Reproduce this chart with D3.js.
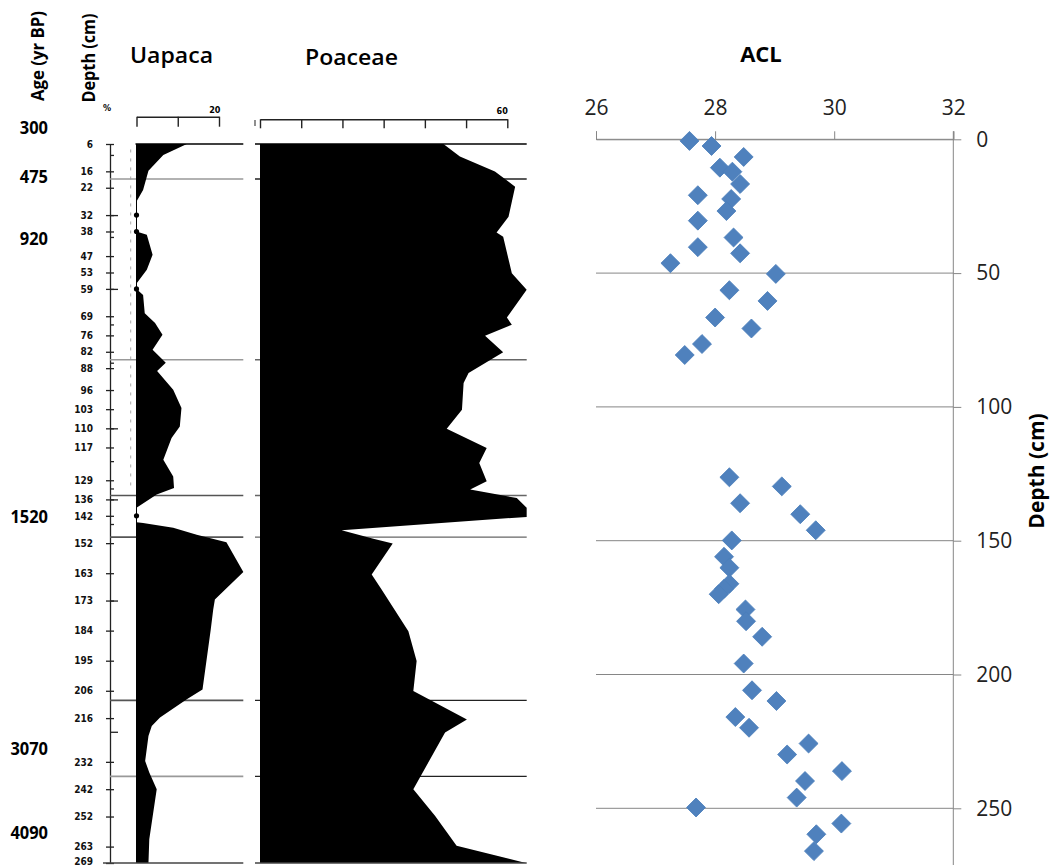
<!DOCTYPE html>
<html>
<head>
<meta charset="utf-8">
<script src="https://cdn.jsdelivr.net/npm/d3@7"></script>
<style>
  html, body { margin: 0; padding: 0; background: #fff; }
  svg { display: block; }
</style>
</head>
<body>
<svg id="chart" width="1051" height="865"></svg>
<script>
// ---------------- DATA ----------------
const depthTickLabels = [6,16,22,32,38,47,53,59,69,76,82,88,96,103,110,117,129,136,142,152,163,173,184,195,206,216,232,242,252,263,269];
const longTickDepths = [32,59,110,136,173,221];
const minorTickDepths = [10,40,72,86,122,132,145];
const ageLabels = ["300","475","920","1520","3070","4090"];
const ageDepths = [0,18,40.5,142.3,227,258];

const uapacaDepth = [6,10,15.8,22.8,27,32,38,39.2,46.5,52,57,59,61.2,67.9,71.5,75.8,81.3,86,89,95.9,102.6,109.3,113.5,121.5,127.6,131.8,134.2,139.1,144.4,144.6,146.4,148.9,151.7,162.6,172.6,176.3,183.6,205.5,209.1,215.8,218.9,222.5,231.7,235.9,242,260.3,269];
const uapacaPct   = [12.2,6.5,2.9,1.6,0,0,0,2.5,3.9,2.5,0,0,1.6,2,4.5,6.3,3.9,7.1,5.0,8.9,10.9,10.5,8.5,6.5,8.9,9.1,4.9,0,0,1.6,8.9,14.6,21.8,25.9,19,18.6,18,16,12.2,5.7,3.7,2.9,2.1,3.1,4.9,3.1,2.9];
const uapacaZeroDots = [32,38,59,142];

const poaceaeDepth = [6,10.6,16.1,21.6,32.6,38.4,39.9,53.3,59.3,69.5,72.1,76.1,82.2,89.8,93.4,103.2,110.2,117.2,122.7,129.4,132.4,135.5,139.1,142.4,147.3,150.4,152.1,163.5,169,184.2,195.1,206.1,216.5,221.3,242,251.8,262.7,269];
const poaceaePct   = [44.5,48.5,57,61.9,60.3,57.4,59,61.1,64.7,59.9,61.1,54.6,59,50.6,49.4,49,45.3,55,53.2,55,51,62.3,64.7,64.7,19.8,27.5,32.2,27.1,29.5,36,38,37.2,50.2,44.9,37.2,42.5,47.7,64.5];

const zoneDepths = [18.8,84.9,134.6,149.8,209.5,237.3];

const uapacaTicks = [0,10,20];
const poaceaeTicks = [0,10,20,30,40,50,60];

const aclDepth = [0.6,2.5,6.6,10.6,12.1,16.7,20.9,22.3,26.8,30.4,36.7,40.3,42.6,46.3,50.3,56.4,60.4,66.6,70.7,76.5,80.6,
                  126.3,129.7,136,140.1,146.1,149.9,156,160.1,166.1,168,170,175.7,180.1,185.9,195.9,205.9,209.9,215.9,219.9,225.8,229.9,236.1,239.8,246,249.7,255.7,259.7,266];
const aclValue = [27.57,27.94,28.48,28.08,28.29,28.42,27.71,28.27,28.19,27.71,28.31,27.71,28.42,27.25,29.02,28.24,28.88,28.0,28.61,27.78,27.49,
                  28.24,29.12,28.42,29.43,29.69,28.28,28.15,28.24,28.24,28.15,28.06,28.51,28.52,28.79,28.48,28.62,29.03,28.34,28.57,29.57,29.21,30.13,29.51,29.37,27.68,30.12,29.70,29.66];
const aclXTicks = [26,28,30,32];
const aclYTicks = [0,50,100,150,200,250];

// ---------------- DRAW ----------------
const svg = d3.select("#chart");
svg.append("rect").attr("width",1051).attr("height",865).attr("fill","#fff");

const condensed = "'DejaVu Sans Condensed','Liberation Sans Narrow','DejaVu Sans',sans-serif";
const sans = "'Open Sans','Noto Sans',sans-serif";

// scales
const yP = d3.scaleLinear().domain([6,269]).range([144,863]);
const xU = d3.scaleLinear().domain([0,20]).range([136.5,219]);
const xP = d3.scaleLinear().domain([0,60]).range([260,507.3]);

// headers
svg.append("text").attr("transform","translate(43.5,56) rotate(-90)")
  .attr("text-anchor","middle").attr("font-family",sans).attr("font-weight",700)
  .attr("font-size",18).attr("textLength",90).attr("lengthAdjust","spacingAndGlyphs")
  .text("Age (yr BP)");
svg.append("text").attr("transform","translate(95,58) rotate(-90)")
  .attr("text-anchor","middle").attr("font-family",sans).attr("font-weight",700)
  .attr("font-size",18).attr("textLength",89).attr("lengthAdjust","spacingAndGlyphs")
  .text("Depth (cm)");
svg.append("text").attr("x",130).attr("y",63).attr("font-family",sans).attr("font-weight",600)
  .attr("font-size",22).attr("textLength",83).attr("lengthAdjust","spacingAndGlyphs").text("Uapaca");
svg.append("text").attr("x",305).attr("y",65).attr("font-family",sans).attr("font-weight",600)
  .attr("font-size",22).attr("textLength",93).attr("lengthAdjust","spacingAndGlyphs").text("Poaceae");
svg.append("text").attr("x",103).attr("y",111).attr("font-family",condensed).attr("font-weight",700)
  .attr("font-size",9).text("%");

// age labels
svg.append("g").selectAll("text").data(ageLabels).join("text")
  .attr("x",48).attr("y",(d,i)=>yP(ageDepths[i]))
  .attr("dy","0.36em").attr("text-anchor","end")
  .attr("font-family",sans).attr("font-weight",700).attr("font-size",18)
  .attr("textLength",d=>d.length*9.4).attr("lengthAdjust","spacingAndGlyphs")
  .text(d=>d);

// depth axis
const gAx = svg.append("g").attr("transform","translate(110,0)");
gAx.call(d3.axisLeft(yP).tickValues(depthTickLabels).tickSizeInner(4).tickSizeOuter(0).tickPadding(13).tickFormat(d3.format("d")));
gAx.selectAll("text").attr("font-family",condensed).attr("font-weight",700).attr("font-size",10).attr("fill","#111");
gAx.selectAll("text").filter(d=>d===269).attr("dy","0.1em");
gAx.selectAll("line, path").attr("stroke","#222").attr("stroke-width",1.3);
const gAxR = svg.append("g").attr("transform","translate(110,0)");
gAxR.call(d3.axisRight(yP).tickValues(depthTickLabels.concat(minorTickDepths)).tickSize(4).tickFormat(""));
gAxR.select(".domain").remove();
gAxR.selectAll("line").attr("stroke","#222").attr("stroke-width",1.3);
const gAxL = svg.append("g").attr("transform","translate(110,0)");
gAxL.call(d3.axisRight(yP).tickValues(longTickDepths).tickSize(8).tickFormat(""));
gAxL.select(".domain").remove();
gAxL.selectAll("line").attr("stroke","#222").attr("stroke-width",1.3);

// dotted guide line
svg.append("line").attr("x1",130.7).attr("x2",130.7).attr("y1",yP(8)).attr("y2",yP(133))
  .attr("stroke","#aaa").attr("stroke-width",1).attr("stroke-dasharray","3,6");

// zone lines - Uapaca
svg.append("g").selectAll("line").data(zoneDepths).join("line")
  .attr("x1",110).attr("x2",243.3).attr("y1",d=>yP(d)).attr("y2",d=>yP(d))
  .attr("stroke",(d,i)=> (i===2||i===3||i===4) ? "#555" : "#999").attr("stroke-width",1.6);
// zone lines - Poaceae
svg.append("g").selectAll("line").data(zoneDepths).join("line")
  .attr("x1",255).attr("x2",526.7).attr("y1",d=>yP(d)).attr("y2",d=>yP(d))
  .attr("stroke",(d,i)=> (i===0||i===4||i===5) ? "#222" : "#666").attr("stroke-width",1.4);

// Uapaca area
const uData = uapacaDepth.map((d,i)=>({d, v: uapacaPct[i]}));
svg.append("path").datum(uData)
  .attr("d", d3.area().y(p=>yP(p.d)).x0(xU(0)).x1(p=>xU(p.v)))
  .attr("fill","#000");
svg.append("line").attr("x1",xU(0)).attr("x2",xU(0)).attr("y1",yP(6)).attr("y2",yP(269))
  .attr("stroke","#000").attr("stroke-width",1);
svg.append("g").selectAll("circle").data(uapacaZeroDots).join("circle")
  .attr("cx",xU(0)).attr("cy",d=>yP(d)).attr("r",2.6).attr("fill","#000");

// Poaceae area
const pData = poaceaeDepth.map((d,i)=>({d, v: poaceaePct[i]}));
svg.append("path").datum(pData)
  .attr("d", d3.area().y(p=>yP(p.d)).x0(xP(0)).x1(p=>xP(p.v)))
  .attr("fill","#000");

// top and bottom border lines
[[xU(0)-1,243.3],[255,526.7]].forEach(([a,b])=>{
  svg.append("line").attr("x1",a).attr("x2",b).attr("y1",yP(6)).attr("y2",yP(6)).attr("stroke","#000").attr("stroke-width",1.6);
});
svg.append("line").attr("x1",103).attr("x2",243.3).attr("y1",yP(269)).attr("y2",yP(269)).attr("stroke","#444").attr("stroke-width",1.4);
svg.append("line").attr("x1",255).attr("x2",526.7).attr("y1",yP(269)).attr("y2",yP(269)).attr("stroke","#444").attr("stroke-width",1.4);

// Uapaca top axis
const gU = svg.append("g").attr("transform","translate(0,116.7)");
gU.call(d3.axisTop(xU).tickValues(uapacaTicks).tickSizeInner(-10).tickSizeOuter(0).tickPadding(4).tickFormat(d=> d===20 ? "20" : ""));
gU.selectAll("text").attr("font-family",condensed).attr("font-weight",700).attr("font-size",9).attr("text-anchor","end").attr("dx","1");
gU.selectAll("line, path").attr("stroke","#222").attr("stroke-width",1.4);

// Poaceae top axis
const gP = svg.append("g").attr("transform","translate(0,119.3)");
gP.call(d3.axisTop(xP).tickValues(poaceaeTicks).tickSizeInner(-9).tickSizeOuter(0).tickPadding(5).tickFormat(d=> d===60 ? "60" : ""));
gP.selectAll("text").attr("font-family",condensed).attr("font-weight",700).attr("font-size",9).attr("text-anchor","end").attr("dx","0");
gP.selectAll("line, path").attr("stroke","#222").attr("stroke-width",1.4);
svg.append("line").attr("x1",255).attr("x2",255).attr("y1",120).attr("y2",126).attr("stroke","#444").attr("stroke-width",1.2);

// ---------------- ACL ----------------
const xA = d3.scaleLinear().domain([26,32]).range([596,953.3]);
const yA = d3.scaleLinear().domain([0,250]).range([139.3,808.3]);
const grid = "#868686";

svg.append("g").selectAll("line").data(aclYTicks).join("line")
  .attr("x1",596).attr("x2",953.3).attr("y1",d=>yA(d)).attr("y2",d=>yA(d))
  .attr("stroke",grid).attr("stroke-width",1);

const gAT = svg.append("g").attr("transform",`translate(0,${yA(0)})`);
gAT.call(d3.axisTop(xA).tickValues(aclXTicks).tickSize(8).tickPadding(16).tickFormat(d3.format("d")));
gAT.selectAll("line, path").attr("stroke",grid);
gAT.selectAll("text").attr("font-family",sans).attr("font-size",21).attr("fill","#222");

const gAR = svg.append("g").attr("transform","translate(953.3,0)");
gAR.call(d3.axisRight(yA).tickValues(aclYTicks).tickSize(8).tickSizeOuter(0).tickPadding(15).tickFormat(d3.format("d")));
gAR.select(".domain").remove();
gAR.selectAll("line").attr("stroke",grid);
gAR.selectAll("text").attr("font-family",sans).attr("font-size",21).attr("fill","#222");
svg.append("line").attr("x1",953.3).attr("x2",953.3).attr("y1",131.3).attr("y2",865).attr("stroke",grid);

svg.append("g").selectAll("path").data(aclDepth.map((d,i)=>({d, v: aclValue[i]}))).join("path")
  .attr("transform",p=>`translate(${xA(p.v)},${yA(p.d)}) rotate(45)`)
  .attr("d", d3.symbol().type(d3.symbolSquare).size(180)())
  .attr("fill","#4F81BD").attr("stroke","#4A7EBB").attr("stroke-width",0.8);

svg.append("text").attr("x",761).attr("y",62).attr("text-anchor","middle")
  .attr("font-family",sans).attr("font-weight",700).attr("font-size",22).text("ACL");
svg.append("text").attr("transform","translate(1044,471) rotate(-90)").attr("text-anchor","middle")
  .attr("font-family",sans).attr("font-weight",700).attr("font-size",21).text("Depth (cm)");
</script>
</body>
</html>
